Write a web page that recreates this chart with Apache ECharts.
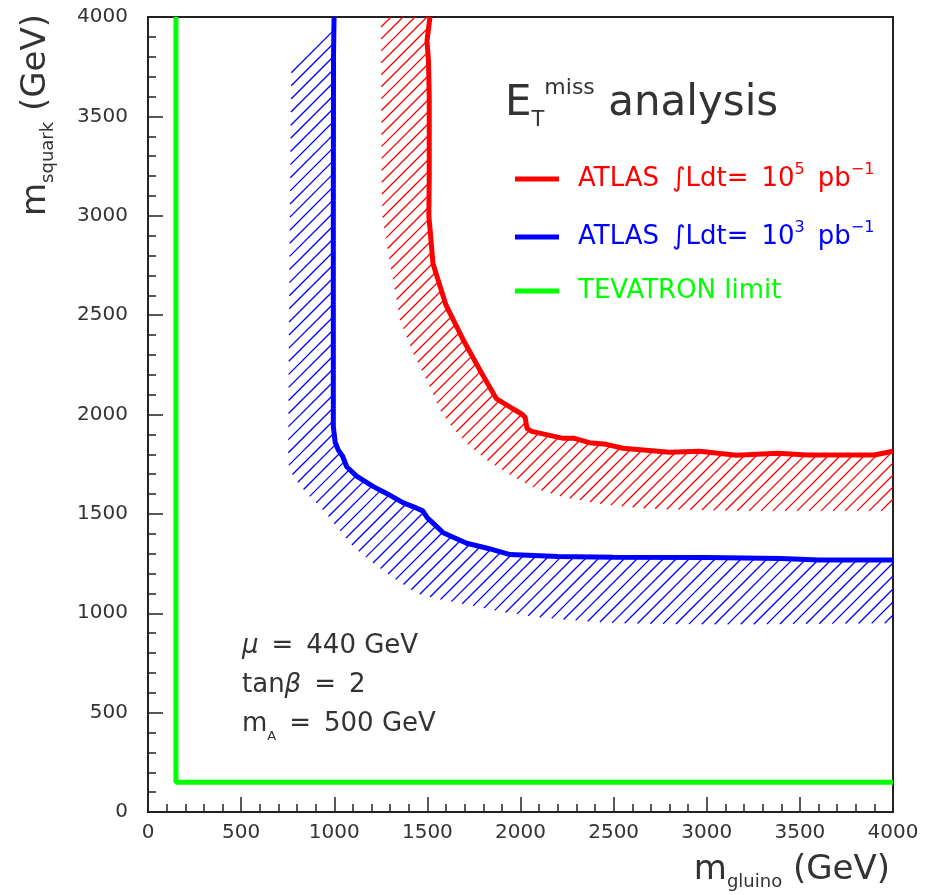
<!DOCTYPE html>
<html>
<head>
<meta charset="utf-8">
<script src="https://cdn.jsdelivr.net/npm/echarts@6/dist/echarts.min.js"></script>
<style>
  html, body { margin: 0; padding: 0; background: #fff; }
  #chart { width: 939px; height: 895px; }
</style>
</head>
<body>
<div id="chart"></div>
<script>
// ---- data (GeV) ----
const TEVATRON = [[150, 4000], [150, 150], [4000, 150]];

// ATLAS 10^5 pb^-1 reach contour
const RED_LIMIT = [
  [1514, 4000], [1498, 3880], [1506, 3780], [1510, 3600], [1510, 3200], [1508, 3000],
  [1530, 2760], [1600, 2550], [1690, 2380], [1790, 2210], [1870, 2080], [1940, 2040],
  [2010, 2000], [2025, 1985], [2035, 1930], [2060, 1915], [2230, 1880], [2290, 1880],
  [2370, 1858], [2460, 1850], [2550, 1830], [2800, 1810], [2960, 1815], [3160, 1795],
  [3380, 1805], [3540, 1796], [3900, 1796], [4000, 1815]
];
// lower edge of the red uncertainty band
const RED_BAND = [
  [1251, 4000], [1251, 3975], [1255, 3180], [1258, 3000], [1299, 2760], [1326, 2626],
  [1353, 2475], [1424, 2308], [1496, 2173], [1568, 2022], [1630, 1940], [1711, 1854],
  [1818, 1771], [1961, 1687], [2086, 1625], [2230, 1585], [2444, 1548], [2659, 1528],
  [2803, 1523], [3200, 1515], [4000, 1515]
];

// ATLAS 10^3 pb^-1 reach contour
const BLUE_LIMIT = [
  [999, 4000], [996, 3800], [995, 3000], [995, 2173], [995, 1940], [1005, 1860],
  [1022, 1821], [1045, 1790], [1067, 1737], [1120, 1690], [1210, 1637], [1281, 1603],
  [1371, 1555], [1440, 1530], [1475, 1515], [1500, 1480], [1532, 1452], [1585, 1405],
  [1711, 1352], [1827, 1326], [1944, 1295], [2200, 1285], [2500, 1282], [3000, 1280],
  [3400, 1276], [3600, 1268], [4000, 1268]
];
const BLUE_BAND = [
  [770, 3780], [762, 3000], [755, 2173], [753, 1754], [780, 1687], [852, 1603],
  [941, 1519], [1013, 1435], [1102, 1335], [1210, 1251], [1335, 1167], [1442, 1100],
  [1555, 1072], [1675, 1050], [1783, 1030], [1899, 1007], [2078, 982], [2266, 966],
  [2516, 950], [2803, 946], [3116, 944], [4000, 950]
];

const X_TICKS = { min: 0, max: 4000, step: 500 };
const Y_TICKS = { min: 0, max: 4000, step: 500 };

const FONT = 'DejaVu Sans';
const INK = '#333';
const C_RED = '#ff0000';
const C_BLUE = '#0000ff';
const C_GREEN = '#00ff00';
const EN = '\u2002';

// hatched band: "/" lines clipped to the polygon (limit + reversed lower edge)
function band(limit, lower, color, step, width) {
  const poly = limit.concat(lower.slice().reverse());
  return {
    type: 'custom',
    coordinateSystem: 'cartesian2d',
    silent: true,
    z: 1,
    itemStyle: { color: color },
    data: [0],
    renderItem: (params, api) => {
      const pts = poly.map(p => api.coord(p));
      const n = pts.length;
      let lo = Infinity, hi = -Infinity;
      pts.forEach(p => { lo = Math.min(lo, p[0] + p[1]); hi = Math.max(hi, p[0] + p[1]); });
      const children = [];
      for (let c = Math.ceil(lo / step) * step; c <= hi; c += step) {
        const xs = [];
        for (let i = 0; i < n; i++) {
          const a = pts[i], b = pts[(i + 1) % n];
          const fa = a[0] + a[1] - c, fb = b[0] + b[1] - c;
          if ((fa < 0) !== (fb < 0)) {
            const t = fa / (fa - fb);
            xs.push(a[0] + t * (b[0] - a[0]));
          }
        }
        xs.sort((u, v) => u - v);
        for (let k = 0; k + 1 < xs.length; k += 2) {
          children.push({
            type: 'line',
            shape: { x1: xs[k], y1: c - xs[k], x2: xs[k + 1], y2: c - xs[k + 1] },
            style: { stroke: color, lineWidth: width }
          });
        }
      }
      return { type: 'group', children: children };
    }
  };
}

function curve(name, data, color) {
  return {
    type: 'line',
    name: name,
    data: data,
    showSymbol: false,
    symbol: 'none',
    z: 5,
    lineStyle: { color: color, width: 5 },
    itemStyle: { color: color }
  };
}

const axisCommon = {
  type: 'value',
  splitLine: { show: false },
  axisLine: { onZero: false, lineStyle: { color: '#222', width: 2 } },
  axisTick: { inside: true, length: 15, lineStyle: { color: '#222', width: 1.5 } },
  minorTick: { show: true, splitNumber: 5, length: 8, lineStyle: { color: '#222', width: 1.5 } },
  axisLabel: { fontFamily: FONT, fontSize: 20, color: INK, formatter: v => String(v) }
};

const legendText = {
  red: `{r|ATLAS${EN}∫Ldt=${EN}10}{rs|5}{r|${EN}pb}{rs|−1}`,
  blue: `{b|ATLAS${EN}∫Ldt=${EN}10}{bs|3}{b|${EN}pb}{bs|−1}`,
  green: '{g|TEVATRON limit}'
};

const chart = echarts.init(document.getElementById('chart'), null, { renderer: 'canvas' });

chart.setOption({
  backgroundColor: '#fff',
  animation: false,
  grid: {
    left: 148, right: 46, top: 17, bottom: 83,
    show: true, borderColor: '#222', borderWidth: 2, backgroundColor: 'transparent'
  },
  title: {
    left: 500, top: 72,
    text: '{e|E}{sub|T}{sup|miss}{t| analysis}',
    textStyle: {
      fontWeight: 'normal',
      rich: {
        e: { fontFamily: FONT, fontWeight: 'normal', fontSize: 42, color: INK, lineHeight: 54 },
        sub: { fontFamily: FONT, fontWeight: 'normal', fontSize: 21, color: INK, verticalAlign: 'bottom', lineHeight: 22 },
        sup: { fontFamily: FONT, fontWeight: 'normal', fontSize: 22, color: INK, verticalAlign: 'top', lineHeight: 23 },
        t: { fontFamily: FONT, fontWeight: 'normal', fontSize: 42, color: INK, lineHeight: 54 }
      }
    }
  },
  legend: {
    orient: 'vertical',
    left: 510, top: 157,
    itemWidth: 44, itemHeight: 5,
    itemGap: 28,
    selectedMode: false,
    data: [
      { name: 'red', icon: 'rect' },
      { name: 'blue', icon: 'rect' },
      { name: 'green', icon: 'rect' }
    ],
    formatter: n => legendText[n],
    textStyle: {
      padding: [0, 0, 0, 14],
      rich: {
        r: { fontFamily: FONT, fontSize: 26, color: C_RED, lineHeight: 34 },
        rs: { fontFamily: FONT, fontSize: 16, color: C_RED, verticalAlign: 'top', lineHeight: 20 },
        b: { fontFamily: FONT, fontSize: 26, color: C_BLUE, lineHeight: 34 },
        bs: { fontFamily: FONT, fontSize: 16, color: C_BLUE, verticalAlign: 'top', lineHeight: 20 },
        g: { fontFamily: FONT, fontSize: 26, color: C_GREEN, lineHeight: 34 }
      }
    }
  },
  xAxis: Object.assign({}, axisCommon, {
    min: X_TICKS.min, max: X_TICKS.max, interval: X_TICKS.step,
    axisLabel: Object.assign({}, axisCommon.axisLabel, { margin: 11 }),
    name: '{m|m}{s|gluino}{m| (GeV)}',
    nameLocation: 'end',
    nameGap: -3,
    nameTextStyle: {
      align: 'right', verticalAlign: 'top', padding: [37, 0, 0, 0],
      rich: {
        m: { fontFamily: FONT, fontSize: 34, color: INK, lineHeight: 42 },
        s: { fontFamily: FONT, fontSize: 18, color: INK, verticalAlign: 'bottom', lineHeight: 24 }
      }
    }
  }),
  yAxis: Object.assign({}, axisCommon, {
    min: Y_TICKS.min, max: Y_TICKS.max, interval: Y_TICKS.step,
    axisLabel: Object.assign({}, axisCommon.axisLabel, { margin: 20 })
  }),
  graphic: [
    {
      type: 'text', left: 242, top: 633, silent: true,
      style: {
        text: `{i|μ}{t|${EN}=${EN}440 GeV}\n{t|tan}{i|β}{t|${EN}=${EN}2}\n{t|m}{s|A}{t|${EN}=${EN}500 GeV}`,
        rich: {
          t: { fontFamily: FONT, fontSize: 26, fill: INK, lineHeight: 39 },
          i: { fontFamily: FONT, fontStyle: 'italic', fontSize: 26, fill: INK, lineHeight: 39 },
          s: { fontFamily: FONT, fontSize: 13, fill: INK, verticalAlign: 'bottom', lineHeight: 26 }
        }
      }
    },
    {
      type: 'text', x: 36, y: 14, rotation: Math.PI / 2, silent: true,
      style: {
        text: '{m|m}{s|squark}{m| (GeV)}',
        align: 'right', verticalAlign: 'middle',
        rich: {
          m: { fontFamily: FONT, fontSize: 34, fill: INK, lineHeight: 42 },
          s: { fontFamily: FONT, fontSize: 18, fill: INK, verticalAlign: 'bottom', lineHeight: 26 }
        }
      }
    }
  ],
  series: [
    band(BLUE_LIMIT, BLUE_BAND, C_BLUE, 13, 1.3),
    band(RED_LIMIT, RED_BAND, C_RED, 12, 1.3),
    curve('red', RED_LIMIT, C_RED),
    curve('blue', BLUE_LIMIT, C_BLUE),
    curve('green', TEVATRON, C_GREEN)
  ]
});
</script>
</body>
</html>
